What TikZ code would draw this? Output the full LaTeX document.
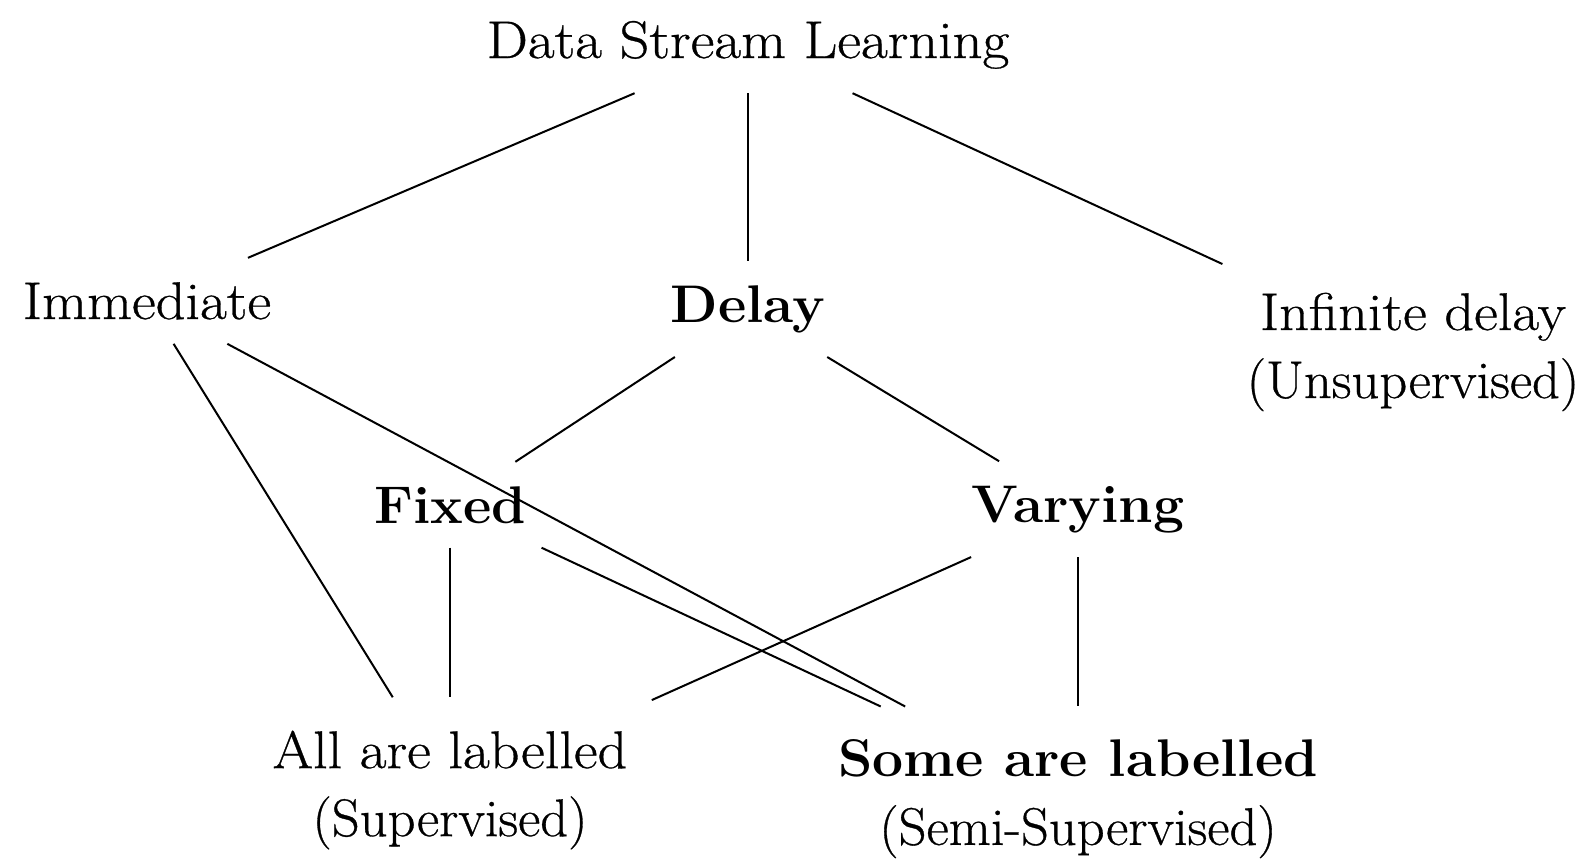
\documentclass[tikz,border=0pt]{standalone}
\usepackage{fontspec}
\setmainfont{Latin Modern Roman}[UprightFeatures={FakeStretch=1.1,FakeBold=0.6}, BoldFeatures={FakeStretch=1.04}]
\newfontfamily\subfont{Latin Modern Roman}[FakeStretch=1.03,FakeBold=0.6]
\usepackage{tikz}

\begin{document}
\begin{tikzpicture}[x=0.5pt, y=-0.5pt, every node/.style={inner sep=12pt, font=\fontsize{26.5}{34}\selectfont}, twoline/.style={align=center, inner ysep=16.5pt}]
\useasboundingbox (0,0) rectangle (1586,858);

\node[anchor=base] (dsl) at (748,58) {Data Stream Learning};

\node[anchor=base] (imm) at (147,319) {Immediate};
\node[anchor=base] (delay) at (748,322) {\textbf{Delay}};
\node[twoline] (inf) at (1413,352) {Infinite delay\\{\subfont(Unsupervised)}};

\node[anchor=base] (fixed) at (450,523) {\textbf{Fixed}};
\node[anchor=base] (vary) at (1078,522) {\textbf{Varying}};

\node[twoline] (all) at (450,790) {All are labelled\\{\subfont(Supervised)}};
\node[twoline] (some) at (1078,799) {\textbf{Some are labelled}\\{\subfont(Semi-Supervised)}};

\draw[line width=1pt] (dsl) -- (imm);
\draw[line width=1pt] (dsl) -- (delay);
\draw[line width=1pt] (dsl) -- (inf);
\draw[line width=1pt] (imm) -- (all);
\draw[line width=1pt] (imm) -- (some);
\draw[line width=1pt] (delay) -- (fixed);
\draw[line width=1pt] (delay) -- (vary);
\draw[line width=1pt] (fixed) -- (all);
\draw[line width=1pt] (fixed) -- (some);
\draw[line width=1pt] (vary) -- (all);
\draw[line width=1pt] (vary) -- (some);
\end{tikzpicture}
\end{document}
